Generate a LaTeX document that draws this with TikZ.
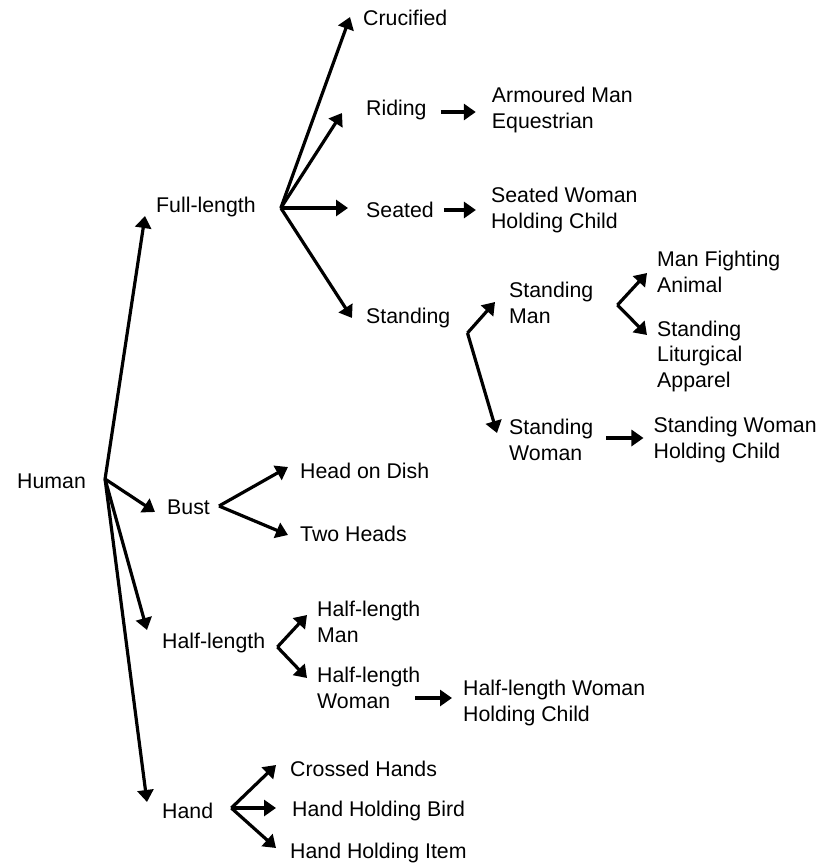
\documentclass[tikz,border=0pt]{standalone}
\usepackage{fontspec}
\setmainfont{Liberation Sans}
\usetikzlibrary{arrows.meta,positioning}
\tikzstyle{leaf} = [inner sep=0pt, anchor=west, align=left,
    font=\fontsize{21.3}{25.5}\selectfont]
\tikzstyle{link} = [-{Triangle[length=12pt,width=16pt]}, line width=3.2pt]

\begin{document}
\begin{tikzpicture}[x=1pt, y=-1pt]
	\useasboundingbox (0,0) rectangle (823,867);
	% first level
	\node [leaf] (human) at (17,481) {Human};
	\node [leaf] (full) at (156,207) {Full-length};
	\node [leaf] (bust) at (167,507) {Bust};
	\node [leaf] (halfl) at (162,643) {Half-length};
	\node [leaf] (hand) at (162,811) {Hand};
	% full-length branch
	\node [leaf] (cruc) at (363,18) {Crucified};
	\node [leaf] (riding) at (366,110) {Riding};
	\node [leaf] (seated) at (366,210) {Seated};
	\node [leaf] (standing) at (366,318) {Standing};
	\node [leaf, right=65pt of riding] (armoured) {Armoured Man\\Equestrian};
	\node [leaf, right=57pt of seated] (seatwoman) {Seated Woman\\Holding Child};
	\node [leaf] (standman) at (509,303) {Standing\\Man};
	\node [leaf] (standwoman) at (509,440) {Standing\\Woman};
	\node [leaf] (fighting) at (657,272) {Man Fighting\\Animal};
	\node [leaf] (liturgical) at (657,356) {Standing\\Liturgical\\Apparel};
	\node [leaf, right=60pt of standwoman] (swchild) {Standing Woman\\Holding Child};
	% bust, half-length and hand
	\node [leaf] (dish) at (300,471) {Head on Dish};
	\node [leaf] (twoheads) at (300,534) {Two Heads};
	\node [leaf] (hlman) at (317,622) {Half-length\\Man};
	\node [leaf] (hlwoman) at (317,688) {Half-length\\Woman};
	\node [leaf] (hlchild) at (463,703) {Half-length Woman\\Holding Child};
	\node [leaf] (crossed) at (290,769) {Crossed Hands};
	\node [leaf] (bird) at (292,811) {Hand Holding Bird};
	\node [leaf] (item) at (290,853) {Hand Holding Item};

	% fan points
	\coordinate (humanfan) at ([shift={(19,-2)}]human.east);
	\coordinate (fullfan) at ([shift={(25,1)}]full.east);
	\coordinate (standfan) at ([shift={(17,15)}]standing.east);
	\coordinate (manfan) at ([shift={(24,2)}]standman.east);
	\coordinate (bustfan) at ([shift={(9,-1)}]bust.east);
	\coordinate (halffan) at ([shift={(12,4)}]halfl.east);
	\coordinate (handfan) at ([shift={(18,-3)}]hand.east);

	\draw[link] (humanfan) -- ([shift={(-11,9)}]full.west);
	\draw[link] (humanfan) -- ([shift={(-12,5)}]bust.west);
	\draw[link] (humanfan) -- ([shift={(-15,-13)}]halfl.west);
	\draw[link] (humanfan) -- ([shift={(-15,-9)}]hand.west);

	\draw[link] (fullfan) -- ([shift={(-13,-1)}]cruc.west);
	\draw[link] (fullfan) -- ([shift={(-24,3)}]riding.west);
	\draw[link] (fullfan) -- ([shift={(-18,-2)}]seated.west);
	\draw[link] (fullfan) -- ([shift={(-14,0)}]standing.west);
	\draw[link] ([shift={(14,2)}]riding.east) -- ([shift={(-16,2)}]armoured.west);
	\draw[link] ([shift={(10,0)}]seated.east) -- ([shift={(-15,0)}]seatwoman.west);

	\draw[link] (standfan) -- ([shift={(-14,-1)}]standman.west);
	\draw[link] (standfan) -- ([shift={(-12,-7)}]standwoman.west);
	\draw[link] (manfan) -- ([shift={(-10,1)}]fighting.west);
	\draw[link] (manfan) -- ([shift={(-10,-21)}]liturgical.west);
	\draw[link] ([shift={(13,-2)}]standwoman.east) -- ([shift={(-10,-2)}]swchild.west);

	\draw[link] (bustfan) -- ([shift={(-12,-4)}]dish.west);
	\draw[link] (bustfan) -- ([shift={(-12,1)}]twoheads.west);
	\draw[link] (halffan) -- ([shift={(-10,-7)}]hlman.west);
	\draw[link] (halffan) -- ([shift={(-10,-10)}]hlwoman.west);
	\draw[link] ([shift={(-5,10)}]hlwoman.east) -- ([shift={(-11,-5)}]hlchild.west);
	\draw[link] (handfan) -- ([shift={(-14,-4)}]crossed.west);
	\draw[link] (handfan) -- ([shift={(-16,-3)}]bird.west);
	\draw[link] (handfan) -- ([shift={(-14,-5)}]item.west);
\end{tikzpicture}
\end{document}
